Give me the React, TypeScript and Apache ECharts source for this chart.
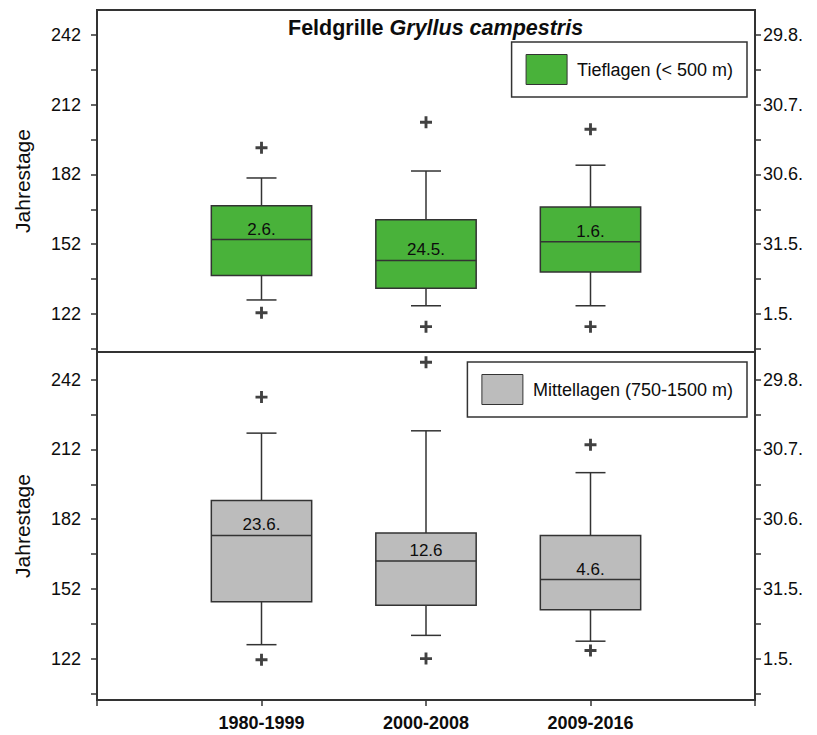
import React, { useEffect, useRef } from "react";
import * as echarts from "echarts";

// ---- data ----
const categories = ["", "1980-1999", "2000-2008", "2009-2016", ""];
// [min, Q1, median, Q3, max] (Jahrestage)
const lowBoxes = [
  [128, 138.5, 154, 168.5, 180.5],
  [125.5, 133, 145, 162.5, 183.5],
  [125.5, 140, 153, 168, 186],
];
const lowOutliers = [
  [193.5, 122.5],
  [204.5, 116.5],
  [201.5, 116.5],
];
const lowMedianLabels = ["2.6.", "24.5.", "1.6."];

const midBoxes = [
  [128, 146.5, 175, 190, 219],
  [132, 145, 164, 176, 220],
  [129.5, 143, 156, 175, 202],
];
const midOutliers = [
  [234.5, 121.5],
  [249.5, 122],
  [214, 125.5],
];
const midMedianLabels = ["23.6.", "12.6", "4.6."];

const leftTickLabels = [122, 152, 182, 212, 242];
const minorTicks = [107, 137, 167, 197, 227];
const rightTickLabels = ["1.5.", "31.5.", "30.6.", "30.7.", "29.8."];

const lowName = "Tieflagen (< 500 m)";
const midName = "Mittellagen (750-1500 m)";

const FONT = "'Liberation Sans', Arial, Helvetica, sans-serif";
const DARK = "#333333";
const TEXT = "#0d0d0d";
const GREEN = "#49b23a";
const GRAY = "#bcbcbc";

function boxData(boxes: number[][]) {
  return boxes.map((b, i) => [i + 1, ...b]);
}
function outlierData(out: number[][]) {
  const res: number[][] = [];
  out.forEach((vals, i) => vals.forEach((v) => res.push([i + 1, v])));
  return res;
}

function makeRender(labels: string[]) {
  return (params: any, api: any) => {
    const x = api.value(0);
    const pMin = api.coord([x, api.value(1)]);
    const pQ1 = api.coord([x, api.value(2)]);
    const pMed = api.coord([x, api.value(3)]);
    const pQ3 = api.coord([x, api.value(4)]);
    const pMax = api.coord([x, api.value(5)]);
    const cx = pMin[0];
    const bw = api.size([1, 0])[0] * 0.61;
    const cw = 30;
    const lineStyle = { stroke: DARK, lineWidth: 1.5 };
    const fill = api.visual("color");
    return {
      type: "group",
      children: [
        { type: "line", shape: { x1: cx, y1: pMax[1], x2: cx, y2: pQ3[1] }, style: lineStyle },
        { type: "line", shape: { x1: cx, y1: pQ1[1], x2: cx, y2: pMin[1] }, style: lineStyle },
        { type: "line", shape: { x1: cx - cw / 2, y1: pMax[1], x2: cx + cw / 2, y2: pMax[1] }, style: lineStyle },
        { type: "line", shape: { x1: cx - cw / 2, y1: pMin[1], x2: cx + cw / 2, y2: pMin[1] }, style: lineStyle },
        {
          type: "rect",
          shape: { x: cx - bw / 2, y: pQ3[1], width: bw, height: pQ1[1] - pQ3[1] },
          style: { fill, stroke: DARK, lineWidth: 1.5 },
        },
        { type: "line", shape: { x1: cx - bw / 2, y1: pMed[1], x2: cx + bw / 2, y2: pMed[1] }, style: lineStyle },
        {
          type: "text",
          x: cx,
          y: pMed[1] - 2,
          style: {
            text: labels[params.dataIndex],
            fontSize: 17,
            fontFamily: FONT,
            fill: TEXT,
            align: "center",
            verticalAlign: "bottom",
          },
        },
      ],
    };
  };
}

const PLUS = "path://M3.8,0H6.2V3.8H10V6.2H6.2V10H3.8V6.2H0V3.8H3.8Z";

export default function App() {
  const ref = useRef<HTMLDivElement>(null);
  useEffect(() => {
    if (!ref.current) return;
    const chart = echarts.init(ref.current, undefined, { renderer: "svg" });

    const yLeft = (gridIndex: number, min: number, max: number) => ({
      type: "value",
      gridIndex,
      position: "left",
      min,
      max,
      name: "Jahrestage",
      nameLocation: "middle",
      nameGap: 64,
      nameTextStyle: { fontSize: 21, fontFamily: FONT, color: TEXT },
      axisLine: { show: true, lineStyle: { color: DARK, width: 2 } },
      axisTick: { show: true, length: 6, customValues: [...leftTickLabels, ...minorTicks], lineStyle: { color: DARK, width: 1.5 } },
      axisLabel: { customValues: leftTickLabels, margin: 16, fontSize: 18, fontFamily: FONT, color: TEXT },
      splitLine: { show: false },
    });
    const yRight = (gridIndex: number, min: number, max: number) => ({
      type: "value",
      gridIndex,
      position: "right",
      min,
      max,
      axisLine: { show: true, lineStyle: { color: DARK, width: 2 } },
      axisTick: { show: true, length: 6, customValues: [...leftTickLabels, ...minorTicks], lineStyle: { color: DARK, width: 1.5 } },
      axisLabel: {
        customValues: leftTickLabels,
        margin: 8,
        fontSize: 18,
        fontFamily: FONT,
        color: TEXT,
        formatter: (v: number) => rightTickLabels[leftTickLabels.indexOf(Math.round(v))] ?? "",
      },
      splitLine: { show: false },
    });

    const legendBase = {
      right: 70,
      padding: [12, 14, 12, 14],
      itemWidth: 41,
      itemHeight: 30,
      borderColor: DARK,
      borderWidth: 1.5,
      backgroundColor: "#fff",
      selectedMode: false,
      textStyle: { fontSize: 18, fontFamily: FONT, color: TEXT, padding: [0, 0, 0, 5] },
    };

    const option: any = {
      animation: false,
      backgroundColor: "#ffffff",
      title: {
        text: "{a|Feldgrille }{b|Gryllus campestris}",
        left: 283,
        top: 12,
        textStyle: {
          rich: {
            a: { fontSize: 21.5, fontWeight: "bold", fontFamily: FONT, color: TEXT },
            b: { fontSize: 21.5, fontWeight: "bold", fontStyle: "italic", fontFamily: FONT, color: TEXT },
          },
        },
      },
      legend: [
        {
          ...legendBase,
          top: 42,
          data: [{ name: lowName, icon: "rect", itemStyle: { color: GREEN, borderColor: DARK, borderWidth: 1 } }],
        },
        {
          ...legendBase,
          top: 362,
          data: [{ name: midName, icon: "rect", itemStyle: { color: GRAY, borderColor: DARK, borderWidth: 1 } }],
        },
      ],
      grid: [
        { left: 97, right: 62, top: 10, height: 342, show: true, borderColor: DARK, borderWidth: 2, backgroundColor: "transparent" },
        { left: 97, right: 62, top: 352, height: 348, show: true, borderColor: DARK, borderWidth: 2, backgroundColor: "transparent" },
      ],
      xAxis: [
        {
          type: "category",
          gridIndex: 0,
          data: categories,
          boundaryGap: false,
          axisLine: { show: true, lineStyle: { color: DARK, width: 2 } },
          axisTick: { show: false },
          axisLabel: { show: false },
        },
        {
          type: "category",
          gridIndex: 1,
          data: categories,
          boundaryGap: false,
          axisLine: { show: true, lineStyle: { color: DARK, width: 2 } },
          axisTick: { show: true, length: 6, lineStyle: { color: DARK, width: 1.5 } },
          axisLabel: { show: true, margin: 14, fontSize: 18, fontWeight: "bold", fontFamily: FONT, color: TEXT, interval: 0 },
        },
      ],
      yAxis: [yLeft(0, 105.6, 252.8), yRight(0, 105.6, 252.8), yLeft(1, 104.2, 253.9), yRight(1, 104.2, 253.9)],
      series: [
        {
          name: lowName,
          type: "custom",
          xAxisIndex: 0,
          yAxisIndex: 0,
          itemStyle: { color: GREEN },
          encode: { x: 0, y: [1, 2, 3, 4, 5] },
          data: boxData(lowBoxes),
          renderItem: makeRender(lowMedianLabels),
        },
        {
          name: "lowOut",
          type: "scatter",
          xAxisIndex: 0,
          yAxisIndex: 0,
          symbol: PLUS,
          symbolSize: 12,
          itemStyle: { color: "#111" },
          data: outlierData(lowOutliers),
        },
        {
          name: midName,
          type: "custom",
          xAxisIndex: 1,
          yAxisIndex: 2,
          itemStyle: { color: GRAY },
          encode: { x: 0, y: [1, 2, 3, 4, 5] },
          data: boxData(midBoxes),
          renderItem: makeRender(midMedianLabels),
        },
        {
          name: "midOut",
          type: "scatter",
          xAxisIndex: 1,
          yAxisIndex: 2,
          symbol: PLUS,
          symbolSize: 12,
          itemStyle: { color: "#111" },
          data: outlierData(midOutliers),
        },
      ],
    };
    chart.setOption(option);
    return () => chart.dispose();
  }, []);
  return <div ref={ref} style={{ position: "fixed", left: 0, top: 0, width: 817, height: 735, background: "#fff" }} />;
}
